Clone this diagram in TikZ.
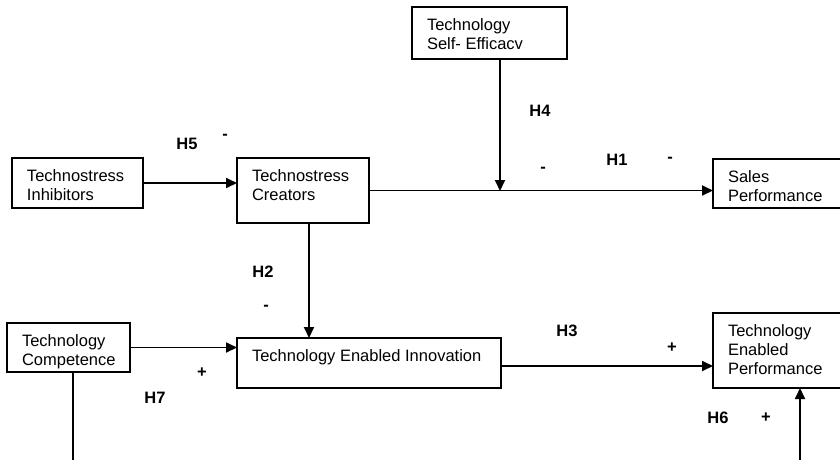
\documentclass[tikz,border=0pt]{standalone}
\usepackage{fontspec}
\setmainfont{Liberation Sans}
\usetikzlibrary{arrows.meta}
% fixed-size box content, text set at the top left
\newcommand\boxtext[3]{\parbox[t][\dimexpr#1pt-24pt\relax][t]{\dimexpr#2pt-30pt\relax}{\raggedright#3}}

\begin{document}
\begin{tikzpicture}[x=1pt,y=-1pt,
  box/.style={draw, line width=1.3pt, anchor=north west, inner xsep=15pt, inner ysep=12pt,
              outer sep=0pt, font=\fontsize{16.5}{19}\selectfont},
  arr/.style={line width=1.8pt, -{Triangle[length=11pt,width=10pt]}},
  hyp/.style={font=\fontsize{16.5}{19}\selectfont\bfseries, inner sep=0pt}]

\clip (0,0) rectangle (840,459);

% constructs
\node[box] (se)    at (412,7)   {\boxtext{52}{155}{Technology\\Self- Efficacv}};
\node[box] (inh)   at (12,158)  {\boxtext{50}{131}{Technostress\\Inhibitors}};
\node[box] (cre)   at (237,158) {\boxtext{65}{132}{Technostress\\Creators}};
\node[box] (sales) at (713,159) {\boxtext{49}{140}{Sales\\Performance}};
\node[box] (comp)  at (7,323)   {\boxtext{49}{123}{Technology\\Competence}};
\node[box] (tei)   at (237,338) {\boxtext{50}{264}{Technology Enabled Innovation}};
\node[box] (tep)   at (713,313) {\boxtext{75}{140}{Technology\\Enabled\\Performance}};

% hypothesis labels and signs
\node[hyp] (h5) at (187,144) {H5};
\node[hyp] (s5) at (225,137) {-};
\node[hyp] (h4) at (540,111) {H4};
\node[hyp] (s4) at (543,170) {-};
\node[hyp] (h1) at (617,160) {H1};
\node[hyp] (s1) at (670,160) {-};
\node[hyp] (h2) at (263,272) {H2};
\node[hyp] (s2) at (266,308) {-};
\node[hyp] (s7) at (202,373) {+};
\node[hyp] (h7) at (155,398) {H7};
\node[hyp] (h3) at (567,331) {H3};
\node[hyp] (s3) at (672,348) {+};
\node[hyp] (h6) at (718,418) {H6};
\node[hyp] (s6) at (766,418) {+};

% connectors
\coordinate (mod) at (500,191);
\coordinate (cd)  at (309,0);
\coordinate (cb)  at (73,0);
\coordinate (pb)  at (800,475);

\draw[arr] (se.south -| mod) -- (mod);
\draw[arr] (inh.east) -- (inh.east -| cre.west);
\draw[arr] (cre.east) -- (cre.east -| sales.west);
\draw[arr] (cre.south -| cd) -- (tei.north -| cd);
\draw[arr] (comp.east) -- (comp.east -| tei.west);
\draw[arr] ([yshift=-3pt]tei.east) -- ([yshift=-3pt]tei.east -| tep.west);
\draw[arr] (comp.south -| cb) |- (pb) -- (tep.south -| pb);
\end{tikzpicture}
\end{document}
